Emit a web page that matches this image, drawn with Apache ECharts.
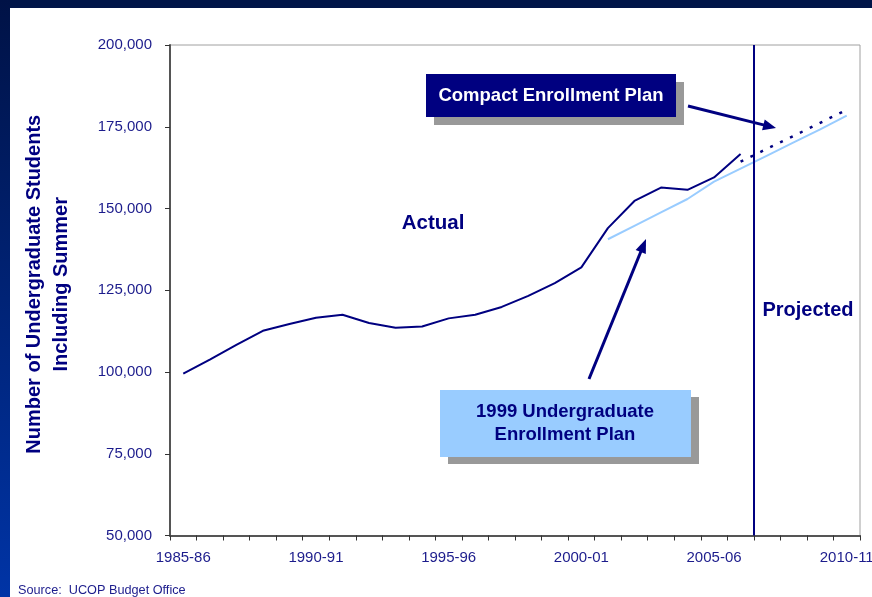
<!DOCTYPE html>
<html>
<head>
<meta charset="utf-8">
<script src="https://cdn.jsdelivr.net/npm/echarts@6/dist/echarts.min.js"></script>
<style>
html,body{margin:0;padding:0;background:#fff;}
#chart{width:872px;height:597px;}
</style>
</head>
<body>
<div id="chart"></div>
<script>
// ---- data ----
var years = ['1985-86','1986-87','1987-88','1988-89','1989-90','1990-91','1991-92','1992-93','1993-94','1994-95',
             '1995-96','1996-97','1997-98','1998-99','1999-00','2000-01','2001-02','2002-03','2003-04','2004-05',
             '2005-06','2006-07','2007-08','2008-09','2009-10','2010-11'];
var actual = [99500,103800,108300,112600,114700,116600,117500,115000,113500,113900,
              116400,117500,119900,123300,127200,132000,144000,152300,156400,155700,
              159500,166700,null,null,null,null];
var plan1999 = [null,null,null,null,null,null,null,null,null,null,
                null,null,null,null,null,null,140600,144700,148800,152900,
                158200,162200,166200,170200,174200,178400];
var compact = [null,null,null,null,null,null,null,null,null,null,
               null,null,null,null,null,null,null,null,null,null,
               null,164300,168300,172200,176200,180200];
var yTicks = [50000,75000,100000,125000,150000,175000,200000];
var projectedBoundary = 22; // boundary before 2007-08
var labels = {
  actual: 'Actual',
  projected: 'Projected',
  compact: 'Compact Enrollment Plan',
  plan1999: ['1999 Undergraduate', 'Enrollment Plan'],
  yName: ['Number of Undergraduate Students', 'Including Summer'],
  source: 'Source:  UCOP Budget Office'
};

var NAVY = '#000080';
var LABEL = '#1c1c8c';
var chart = echarts.init(document.getElementById('chart'));

function arrow(x1, y1, x2, y2, w, headLen, headW) {
  var dx = x2 - x1, dy = y2 - y1, L = Math.sqrt(dx*dx + dy*dy);
  var ux = dx / L, uy = dy / L, px = -uy, py = ux;
  var bx = x2 - ux * headLen, by = y2 - uy * headLen;
  return [
    {type:'line', z:20, shape:{x1:x1, y1:y1, x2:bx + ux*1, y2:by + uy*1}, style:{stroke:NAVY, lineWidth:w}},
    {type:'polygon', z:20, shape:{points:[[x2,y2],[bx + px*headW/2, by + py*headW/2],[bx - px*headW/2, by - py*headW/2]]}, style:{fill:NAVY}}
  ];
}

var graphics = [
  {type:'rect', z:-10, shape:{x:0, y:0, width:872, height:8}, style:{fill:'#001548'}},
  {type:'rect', z:-10, shape:{x:0, y:0, width:10, height:597},
   style:{fill:new echarts.graphic.LinearGradient(0,0,0,1,[{offset:0,color:'#001246'},{offset:1,color:'#0034a6'}])}},
  // Compact box
  {type:'rect', z:18, shape:{x:434, y:82, width:250, height:43}, style:{fill:'#999999'}},
  {type:'rect', z:19, shape:{x:426, y:74, width:250, height:43}, style:{fill:NAVY}},
  {type:'text', z:21, style:{text:labels.compact, x:551, y:96, align:'center', verticalAlign:'middle',
    fill:'#ffffff', font:'bold 18.5px "Liberation Sans", Arial, sans-serif'}},
  // 1999 box
  {type:'rect', z:18, shape:{x:448, y:397, width:251, height:67}, style:{fill:'#999999'}},
  {type:'rect', z:19, shape:{x:440, y:390, width:251, height:67}, style:{fill:'#99ccff'}},
  {type:'text', z:21, style:{text:labels.plan1999.join('\n'), x:565, y:423.5, align:'center', verticalAlign:'middle',
    lineHeight:23, fill:NAVY, font:'bold 18.5px "Liberation Sans", Arial, sans-serif'}},
  // free texts
  {type:'text', z:21, style:{text:labels.actual, x:433, y:223, align:'center', verticalAlign:'middle',
    fill:NAVY, font:'bold 20.5px "Liberation Sans", Arial, sans-serif'}},
  {type:'text', z:21, style:{text:labels.projected, x:808, y:310, align:'center', verticalAlign:'middle',
    fill:NAVY, font:'bold 20px "Liberation Sans", Arial, sans-serif'}},
  {type:'text', z:21, style:{text:labels.source, x:18, y:590, align:'left', verticalAlign:'middle',
    fill:LABEL, font:'12.7px "Liberation Sans", Arial, sans-serif'}}
].concat(arrow(688, 106, 776, 128, 3, 13, 11)).concat(arrow(589, 379, 646, 239, 3, 14, 11));

var option = {
  backgroundColor: '#ffffff',
  animation: false,
  grid: {left:170, right:12, top:45, bottom:61.5, show:true, borderColor:'#a0a0a0', borderWidth:1,
         backgroundColor:'transparent', containLabel:false, outerBoundsMode:'none'},
  xAxis: [{
    type:'category', data:years, boundaryGap:true,
    axisLine:{show:true, lineStyle:{color:'#555', width:2}},
    axisTick:{show:true, interval:0, length:5, inside:false, lineStyle:{color:'#333'}},
    axisLabel:{interval:4, color:LABEL, fontSize:15, margin:15, hideOverlap:false,
      fontFamily:'"Liberation Sans", Arial, sans-serif'},
    splitLine:{show:false}
  },{
    type:'value', min:0, max:years.length, show:false
  }],
  yAxis: {
    type:'value', min:yTicks[0], max:yTicks[yTicks.length-1], interval:25000,
    axisLine:{show:true, lineStyle:{color:'#555', width:2}},
    axisTick:{show:true, length:5, inside:false, lineStyle:{color:'#333'}},
    axisLabel:{color:LABEL, fontSize:15, margin:18, fontFamily:'"Liberation Sans", Arial, sans-serif',
      formatter:function(v){ return v.toLocaleString('en-US'); }},
    splitLine:{show:false},
    name: labels.yName.join('\n'), nameLocation:'middle', nameRotate:90, nameGap:95,
    nameTextStyle:{color:NAVY, fontSize:20, fontWeight:'bold', lineHeight:27, padding:[0,0,0,12],
      fontFamily:'"Liberation Sans", Arial, sans-serif'}
  },
  graphic: graphics,
  series: [
    {name:'Actual', type:'line', data:actual, showSymbol:false, symbol:'none',
     lineStyle:{color:NAVY, width:2}, z:5},
    {name:'1999 Undergraduate Enrollment Plan', type:'line', data:plan1999, showSymbol:false, symbol:'none',
     lineStyle:{color:'#99ccff', width:2}, z:4},
    {name:'Compact Enrollment Plan', type:'line', data:compact, showSymbol:false, symbol:'none',
     lineStyle:{color:NAVY, width:2.5, type:[3,8]}, z:5},
    {name:'boundary', type:'line', xAxisIndex:1, data:[], symbol:'none',
     markLine:{silent:true, symbol:['none','none'], label:{show:false},
       lineStyle:{color:NAVY, width:2, type:'solid'},
       data:[{xAxis:projectedBoundary}]}, z:6}
  ]
};
chart.setOption(option);
</script>
</body>
</html>
